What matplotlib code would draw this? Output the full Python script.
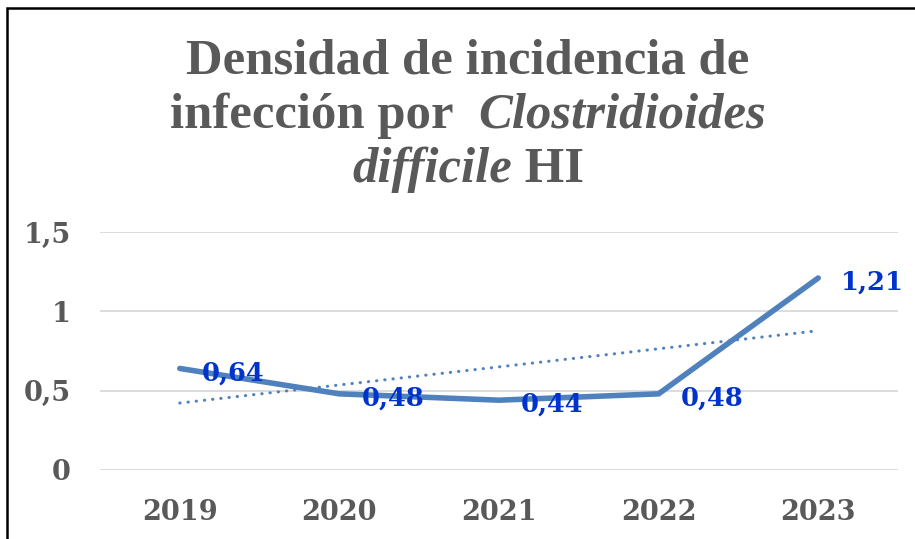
import numpy as np
import matplotlib
matplotlib.use("Agg")
import matplotlib.pyplot as plt
from matplotlib.patches import Rectangle

years = ["2019", "2020", "2021", "2022", "2023"]
density = [0.64, 0.48, 0.44, 0.48, 1.21]
labels = ["0,64", "0,48", "0,44", "0,48", "1,21"]
yticks = [0, 0.5, 1, 1.5]
ytick_labels = ["0", "0,5", "1", "1,5"]

grey = "#595959"
line_color = "#4F81BD"
label_color = "#0033CC"
tick_font = ["DejaVu Serif"]
title_font = ["Liberation Serif", "DejaVu Serif"]

fig = plt.figure(figsize=(9.15, 5.39), dpi=100)
W, H = 915, 539

# chart frame (cut off on right and bottom, like the source)
fig.patches.append(Rectangle((7 / W, -0.05), 1.1, (539 - 8) / H + 0.05,
                             transform=fig.transFigure, fill=False,
                             edgecolor="black", linewidth=1.8))

ax = fig.add_axes([100 / W, (539 - 470) / H, 798 / W, (470 - 232) / H])
x = np.arange(len(years))
ax.plot(x, density, color=line_color, linewidth=4, solid_capstyle="round",
        solid_joinstyle="miter", zorder=3)

# linear trend line
k, b = np.polyfit(x, density, 1)
ax.plot(x, k * x + b, color=line_color, linewidth=2.2, linestyle=(0, (0.1, 2.6)),
        dash_capstyle="round", zorder=2)

for xi, yi, lab in zip(x, density, labels):
    ax.annotate(lab, (xi, yi), xytext=(16, -3), textcoords="offset points",
                ha="left", va="center", color=label_color, fontsize=18.5,
                fontweight="bold", family=tick_font, zorder=5)

ax.set_xlim(-0.5, len(years) - 0.5)
ax.set_ylim(0, 1.5)
ax.set_yticks(yticks)
ax.set_yticklabels(ytick_labels)
ax.set_xticks(x)
ax.set_xticklabels(years)
for t in ax.get_xticklabels() + ax.get_yticklabels():
    t.set_family(tick_font)
    t.set_fontweight("bold")
    t.set_fontsize(19.5)
    t.set_color(grey)
ax.tick_params(length=0)
ax.tick_params(axis="y", pad=21)
ax.tick_params(axis="x", pad=21)
ax.grid(axis="y", color="#D9D9D9", linewidth=1.3)
ax.set_axisbelow(True)
for s in ax.spines.values():
    s.set_visible(False)

# title with italic species name, pieces laid out by measuring them
title_lines = [
    [("Densidad de incidencia de", "normal")],
    [("infección por  ", "normal"), ("Clostridioides", "italic")],
    [("difficile", "italic"), (" HI", "normal")],
]
line_y = [62, 116, 170]
cx = 468
renderer = fig.canvas.get_renderer()
for parts, yy in zip(title_lines, line_y):
    texts = []
    for s, style in parts:
        t = fig.text(0, 1 - yy / H, s, fontsize=36.5, fontweight="bold", style=style,
                     family=title_font, color=grey, va="center", ha="left")
        texts.append(t)
    widths = [t.get_window_extent(renderer).width for t in texts]
    left = cx - sum(widths) / 2
    for t, w in zip(texts, widths):
        t.set_x(left / W)
        left += w

fig.savefig("out.png", dpi=100)
